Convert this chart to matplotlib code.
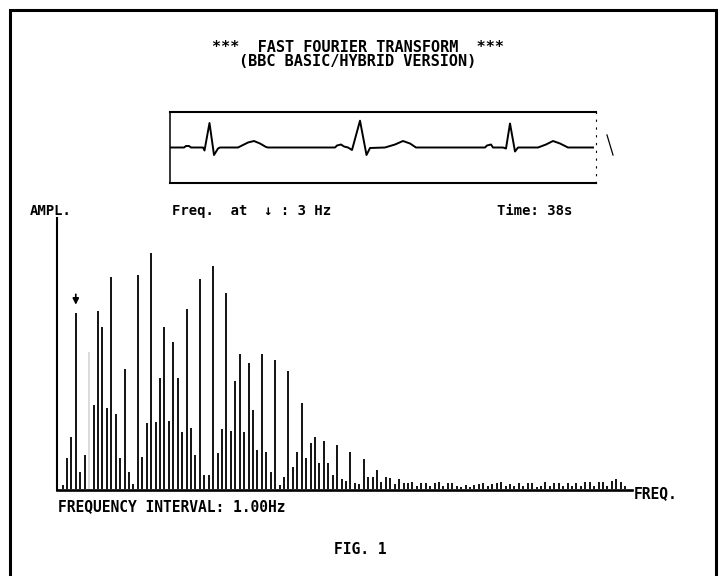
import numpy as np
import matplotlib
matplotlib.use('Agg')
import matplotlib.pyplot as plt
from matplotlib.patches import Rectangle

# Spectrum: one line per 1 Hz bin, heights (arbitrary units)
amplitude = [
    4, 31, 52, 176, 17, 34, 137, 84, 178, 162,
    81, 212, 75, 31, 120, 17, 5, 214, 32, 66,
    236, 67, 111, 162, 68, 147, 111, 57, 180, 61,
    34, 210, 14, 14, 223, 36, 60, 196, 58, 108,
    135, 57, 126, 79, 39, 135, 37, 17, 129, 4,
    12, 118, 22, 37, 86, 31, 46, 52, 26, 48,
    26, 14, 44, 10, 8, 37, 6, 5, 30, 12,
    12, 19, 7, 12, 11, 5, 10, 6, 6, 7,
    3, 6, 6, 3, 6, 7, 3, 6, 6, 3,
    2, 4, 2, 4, 5, 6, 3, 5, 6, 7,
    3, 5, 3, 6, 3, 6, 6, 2, 3, 7,
    3, 6, 6, 3, 6, 3, 6, 3, 7, 7,
    3, 7, 7, 3, 8, 10, 7, 3,
]
freq = np.arange(len(amplitude))
faint_bins = [6]          # this line came out very pale on the print
marked_bin = 3            # the arrow, "Freq. at : 3 Hz"

# ECG trace in the small window (time, level)
ecg_t = [0, 14, 16, 19, 21, 33, 34.5, 39.5, 44, 48, 50, 68, 72, 78, 84, 90, 96, 98,
         165, 167, 171, 174, 178, 182, 190, 196.5, 200, 215, 225, 233, 240, 246,
         315, 317, 321, 323, 333, 336, 340, 345, 348, 368, 376, 383, 390, 398, 423]
ecg_v = [0, 0, 1.5, 1.5, 0, 0, -3, 24.5, -7.5, -1, 0, 0, 2, 5, 6.5, 4, 0.5, 0,
         0, 2, 3, 1, 0, -2.5, 26.8, -7.5, -0.5, 0, 3, 6.5, 4, 0,
         0, 2, 3, 0, 0, -1, 24, -4, 0, 0, 3, 6.5, 4, 0, 0]
ecg_tail_t = [437, 443]
ecg_tail_v = [12.5, -7.5]

W, H = 722, 576
def fx(px):
    return px / W
def fy(py):
    return 1 - py / H

fig = plt.figure(figsize=(7.22, 5.76), dpi=100)
fig.patch.set_facecolor('white')

mono = dict(family='DejaVu Sans Mono', weight='bold', color='black')

# outer frame
fig.add_artist(Rectangle((fx(10), fy(600)), fx(716) - fx(10), fy(10) - fy(600),
                         transform=fig.transFigure, fill=False, lw=2.2, ec='black'))

# titles
fig.text(fx(358), fy(47), '***  FAST FOURIER TRANSFORM  ***', ha='center', va='center', fontsize=11, **mono)
fig.text(fx(358), fy(62), '(BBC BASIC/HYBRID VERSION)', ha='center', va='center', fontsize=11, **mono)

# ECG window
ax_ecg = fig.add_axes([fx(170), fy(183), fx(596) - fx(170), fy(112) - fy(183)])
ax_ecg.plot(ecg_t, ecg_v, color='black', lw=1.4)
ax_ecg.plot(ecg_tail_t, ecg_tail_v, color='black', lw=0.9, clip_on=False)
ax_ecg.set_xlim(0, 426)
ax_ecg.set_ylim(147.5 - 183, 147.5 - 112)
ax_ecg.set_xticks([])
ax_ecg.set_yticks([])
for side in ['top', 'bottom']:
    ax_ecg.spines[side].set_linewidth(1.5)
ax_ecg.spines['left'].set_linewidth(1.1)
ax_ecg.spines['right'].set_linewidth(0.8)
ax_ecg.spines['right'].set_linestyle((0, (1, 6)))

# labels row
fig.text(fx(30), fy(211), 'AMPL.', ha='left', va='center', fontsize=10, **mono)
fig.text(fx(172), fy(211), 'Freq.  at  \u2193 : 3 Hz', ha='left', va='center', fontsize=10, **mono)
fig.text(fx(497), fy(211), 'Time: 38s', ha='left', va='center', fontsize=10, **mono)

# spectrum
ax = fig.add_axes([fx(57), fy(490), fx(632) - fx(57), fy(218) - fy(490)])
colors = ['#d8d8d8' if i in faint_bins else 'black' for i in freq]
ax.vlines(freq, 0, amplitude, colors=colors, lw=1.3)
ax.annotate('', xy=(marked_bin, amplitude[marked_bin] + 5), xytext=(marked_bin, amplitude[marked_bin] + 21),
            arrowprops=dict(arrowstyle='-|>', color='black', lw=1.2, mutation_scale=9))
ax.set_xlim((57 - 62.5) / 4.43, (632 - 62.5) / 4.43)
ax.set_ylim(-1.5, 270.5)
ax.set_xticks([])
ax.set_yticks([])
ax.spines['top'].set_visible(False)
ax.spines['right'].set_visible(False)
ax.spines['left'].set_linewidth(1.5)
ax.spines['bottom'].set_linewidth(1.9)

fig.text(fx(634), fy(494), 'FREQ.', ha='left', va='center', fontsize=10.5, **mono)
fig.text(fx(58), fy(507), 'FREQUENCY INTERVAL: 1.00Hz', ha='left', va='center', fontsize=10.5, **mono)
fig.text(fx(360), fy(549), 'FIG. 1', ha='center', va='center', fontsize=10.5, **mono)

fig.savefig('out.png', dpi=100)
